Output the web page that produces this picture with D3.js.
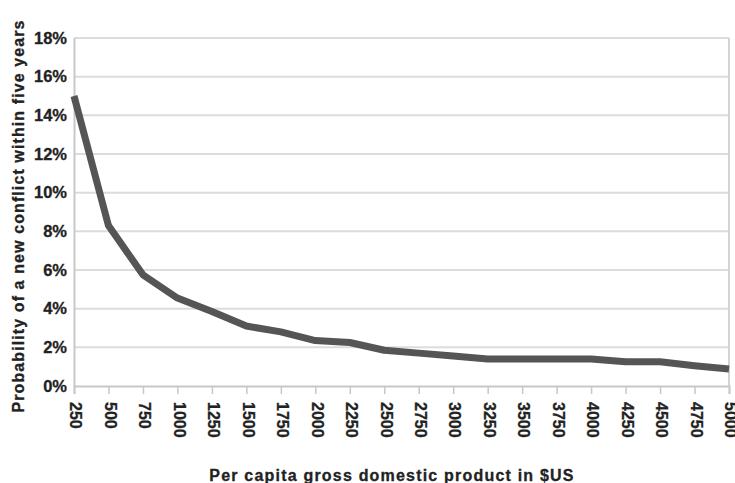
<!DOCTYPE html>
<html>
<head>
<meta charset="utf-8">
<script src="https://cdn.jsdelivr.net/npm/d3@7"></script>
<style>
  html, body { margin: 0; padding: 0; background: #fff; }
  svg text { font-family: "Liberation Sans", Arial, sans-serif; font-weight: bold; fill: #222; stroke: #222; stroke-width: 0.3px; }
</style>
</head>
<body>
<svg id="chart" width="735" height="483"></svg>
<script>
const categories = [250, 500, 750, 1000, 1250, 1500, 1750, 2000, 2250, 2500,
                    2750, 3000, 3250, 3500, 3750, 4000, 4250, 4500, 4750, 5000];
const probability = [15.0, 8.3, 5.75, 4.55, 3.85, 3.1, 2.8, 2.35, 2.25, 1.85,
                     1.7, 1.55, 1.4, 1.4, 1.4, 1.4, 1.25, 1.25, 1.05, 0.88];
const yTicks = [0, 2, 4, 6, 8, 10, 12, 14, 16, 18];
const xTitle = "Per capita gross domestic product in $US";
const yTitle = "Probability of a new conflict within five years";

const svg = d3.select("#chart");
const m = { left: 74, right: 6, top: 38, bottom: 97 };
const W = 735, H = 483;

const x = d3.scalePoint().domain(categories).range([m.left, W - m.right]);
const y = d3.scaleLinear().domain([0, 18]).range([H - m.bottom, m.top]);

// gridlines
svg.append("g").selectAll("line").data(yTicks.filter(d => d > 0)).join("line")
  .attr("x1", m.left).attr("x2", W - m.right)
  .attr("y1", d => y(d)).attr("y2", d => y(d))
  .attr("stroke", "#dcdcdc").attr("stroke-width", 2);

// right border
svg.append("line")
  .attr("x1", W - m.right).attr("x2", W - m.right)
  .attr("y1", y(18)).attr("y2", y(0))
  .attr("stroke", "#d4d4d4").attr("stroke-width", 2);

// y axis
const yAxis = svg.append("g").attr("transform", `translate(${m.left},0)`)
  .call(d3.axisLeft(y).tickValues(yTicks).tickFormat(d => d + "%").tickSize(0).tickPadding(7));
yAxis.select(".domain").attr("stroke", "#c8c8c8").attr("stroke-width", 2);
yAxis.selectAll("text").style("font-size", "16.5px").attr("fill", "#222");

// x axis
const xAxis = svg.append("g").attr("transform", `translate(0,${y(0)})`)
  .call(d3.axisBottom(x).tickSize(8).tickPadding(6));
xAxis.select(".domain").attr("stroke", "#c8c8c8").attr("stroke-width", 2);
xAxis.selectAll(".tick line").attr("stroke", "#c8c8c8").attr("stroke-width", 1.5);
xAxis.selectAll("text")
  .style("font-size", "16px").attr("fill", "#222")
  .attr("transform", "rotate(90)")
  .attr("text-anchor", "start")
  .attr("dominant-baseline", "middle")
  .attr("x", 16).attr("y", 0).attr("dy", null);

// line
const line = d3.line().x((d, i) => x(categories[i])).y(d => y(d));
svg.append("path").datum(probability)
  .attr("d", line)
  .attr("fill", "none")
  .attr("stroke", "#555")
  .attr("stroke-width", 7)
  .attr("stroke-linejoin", "round");

// titles
svg.append("text")
  .attr("x", 392).attr("y", 481)
  .attr("text-anchor", "middle")
  .style("font-size", "16px").style("letter-spacing", "1.2px")
  .text(xTitle);

svg.append("text")
  .attr("transform", "translate(24,216) rotate(-90)")
  .attr("text-anchor", "middle")
  .style("font-size", "16px").style("letter-spacing", "1.1px")
  .text(yTitle);
</script>
</body>
</html>
